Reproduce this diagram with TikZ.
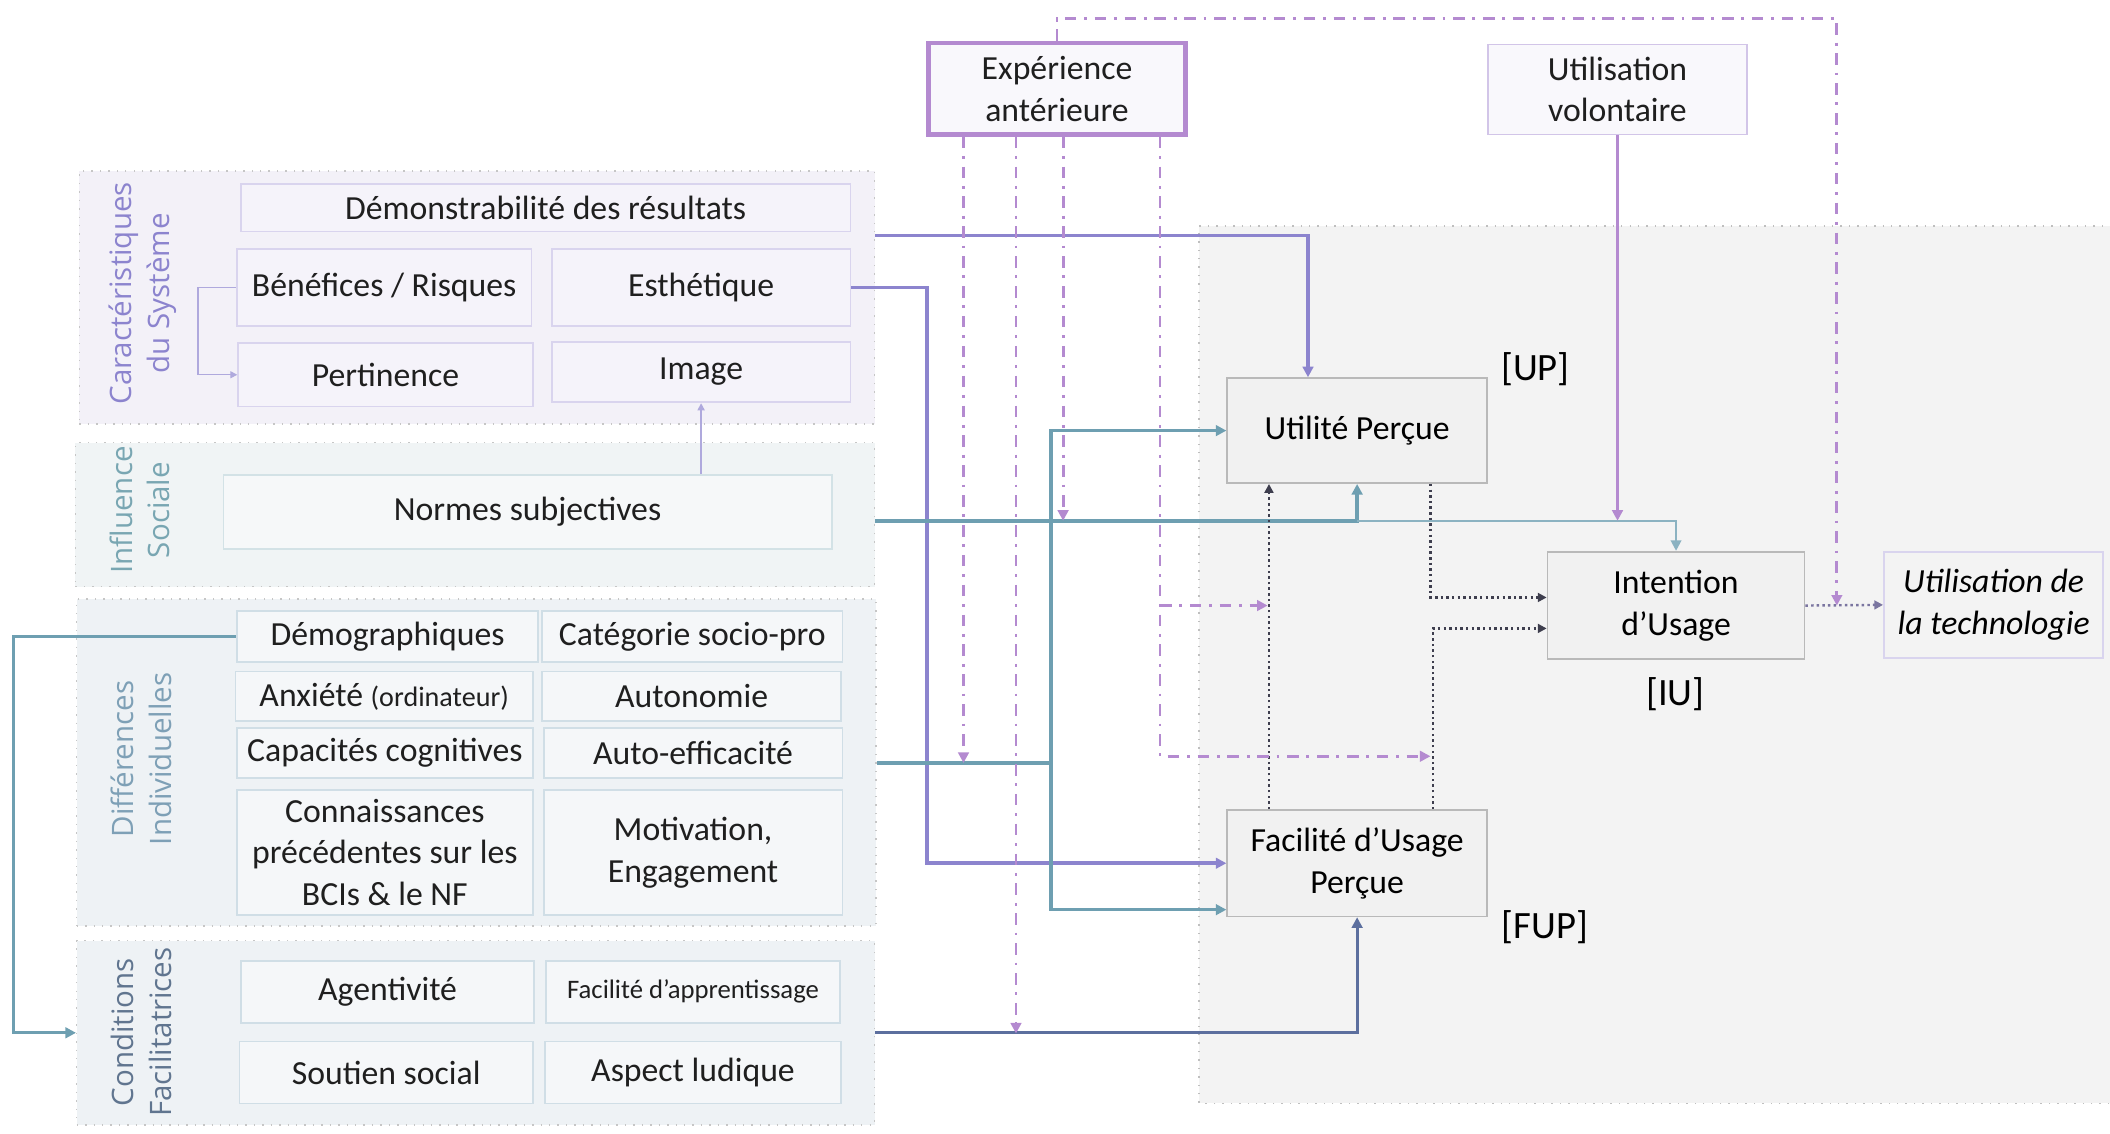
\documentclass[tikz,border=0pt]{standalone}
\usepackage{fontspec}
\setmainfont{Carlito}
\newfontfamily\grpfont{Open Sans}
\usetikzlibrary{arrows.meta}

\definecolor{sysc}{HTML}{8C84CE}
\definecolor{sysfill}{HTML}{F3F1F8}
\definecolor{sysbox}{HTML}{F5F3FA}
\definecolor{sysedge}{HTML}{D9D4EE}
\definecolor{socc}{HTML}{79A6B2}
\definecolor{socfill}{HTML}{F0F4F5}
\definecolor{socedge}{HTML}{D3E2E6}
\definecolor{indc}{HTML}{7EA0B6}
\definecolor{indfill}{HTML}{EEF2F5}
\definecolor{indedge}{HTML}{D0DEE6}
\definecolor{condc}{HTML}{60758F}
\definecolor{condln}{HTML}{5C6F9E}
\definecolor{expc}{HTML}{B48AD0}
\definecolor{tealc}{HTML}{6E9FB1}
\definecolor{dotc}{HTML}{3E3E4E}
\definecolor{usec}{HTML}{7A75A0}
\definecolor{bgfill}{HTML}{F3F3F3}
\definecolor{modfill}{HTML}{F1F1F1}

\newlength\pu
\setlength\pu{0.013457cm}
\newcommand\boxfont{\fontsize{9.6}{11.9}\selectfont}

\begin{document}
\begin{tikzpicture}[x=0.013457cm, y=-0.013457cm,
    >={Triangle[length=3pt,width=3pt]},
    size/.style 2 args={minimum width=#1\pu, minimum height=#2\pu},
    grp/.style={draw=gray!45, dotted, line width=0.4pt, inner sep=0pt},
    grplabel/.style={rotate=90, align=center, inner sep=0pt,
        font=\grpfont\fontsize{8.4}{10.7}\selectfont},
    item/.style={draw=#1, line width=0.5pt, inner sep=1pt, align=center,
        text=black!88, font=\boxfont},
    model/.style={draw=gray!55, fill=modfill, line width=0.5pt, inner sep=1pt,
        align=center, text=black, font=\boxfont},
    tag/.style={font=\fontsize{11}{13}\selectfont, inner sep=0pt},
    lnsys/.style={draw=sysc, line width=1pt},
    lnthin/.style={draw=sysc!70, line width=0.4pt, >={Triangle[length=2pt,width=2pt]}},
    lnsoc/.style={draw=tealc, line width=1pt},
    lnsocthin/.style={draw=tealc!80, line width=0.6pt},
    lnind/.style={draw=tealc, line width=0.9pt},
    lncond/.style={draw=condln, line width=0.9pt},
    lnvol/.style={draw=expc, line width=0.8pt},
    lnexp/.style={draw=expc, line width=0.8pt,
        dash pattern=on 3.3pt off 2.2pt on 0.8pt off 2.2pt},
    lndot/.style={draw=dotc, line width=0.7pt, dash pattern=on 0.7pt off 0.9pt,
        >={Triangle[length=2.5pt,width=2.5pt]}}]

    \useasboundingbox (0,0) rectangle (1568,842);

    % model area
    \fill[bgfill] (891,168) rectangle (1580,820);
    \draw[gray!50, dotted, line width=0.4pt] (1580,820) -- (891,820) -- (891,168) -- (1580,168);

    % groups
    \node[grp, fill=sysfill, size={591}{188}] (carac) at (354.5,221) {};
    \node[grp, fill=socfill, size={594}{107}] (infl) at (353,382.5) {};
    \node[grp, fill=indfill, size={594}{243}] (diff) at (354,566.5) {};
    \node[grp, fill=indfill, size={593}{137}] (cond) at (353.5,767.5) {};

    \node[grplabel, text=sysc] (caraclab) at (106,218) {Caractéristiques\\du Système};
    \node[grplabel, text=socc] (infllab) at (104,379) {Influence\\Sociale};
    \node[grplabel, text=indc] (difflab) at (105,564) {Différences\\Individuelles};
    \node[grplabel, text=condc] (condlab) at (105,767) {Conditions\\Facilitatrices};

    % caractéristiques du système
    \node[item=sysedge, fill=sysbox, size={453}{35}] (demo) at (405.5,154.5) {Démonstrabilité des résultats};
    \node[item=sysedge, fill=sysbox, size={219}{57}] (bene) at (285.5,213.5) {Bénéfices / Risques};
    \node[item=sysedge, fill=sysbox, size={222}{57}] (esth) at (521,213.5) {Esthétique};
    \node[item=sysedge, fill=sysbox, size={219}{47}] (pert) at (286.5,278.5) {Pertinence};
    \node[item=sysedge, fill=sysbox, size={222}{45}] (imag) at (521,276.5) {Image};

    % influence sociale
    \node[item=socedge, fill=socfill!60!white, size={452}{55}] (norm) at (392,380.5) {Normes subjectives};

    % différences individuelles
    \node[item=indedge, fill=indfill!60!white, size={224}{38}] (demog) at (288,473) {Démographiques};
    \node[item=indedge, fill=indfill!60!white, size={223}{38}] (cate) at (514.5,473) {Catégorie socio-pro};
    \node[item=indedge, fill=indfill!60!white, size={221}{37}] (anx) at (285.5,517.5) {Anxiété {\fontsize{8}{9}\selectfont(ordinateur)}};
    \node[item=indedge, fill=indfill!60!white, size={222}{37}] (auto) at (514,517.5) {Autonomie};
    \node[item=indedge, fill=indfill!60!white, size={220}{37}] (capa) at (286,559.5) {Capacités cognitives};
    \node[item=indedge, fill=indfill!60!white, size={222}{37}] (effi) at (515,559.5) {Auto-efficacité};
    \node[item=indedge, fill=indfill!60!white, size={220}{93}] (conn) at (286,633.5) {Connaissances\\précédentes sur les\\BCIs \& le NF};
    \node[item=indedge, fill=indfill!60!white, size={222}{93}] (moti) at (515,633.5) {Motivation,\\Engagement};

    % conditions facilitatrices
    \node[item=indedge, fill=indfill!60!white, size={218}{46}] (agen) at (288,737) {Agentivité};
    \node[item=indedge, fill=indfill!60!white, size={218}{46}, font=\fontsize{7.6}{9}\selectfont] (facap) at (515,737) {Facilité d’apprentissage};
    \node[item=indedge, fill=indfill!60!white, size={218}{46}] (sout) at (287,797) {Soutien social};
    \node[item=indedge, fill=indfill!60!white, size={220}{46}] (ludi) at (515,797) {Aspect ludique};

    % modérateurs
    \node[item=expc, fill=sysbox!60!white, line width=1.2pt, size={191}{68}] (expe) at (785.5,66) {Expérience\\antérieure};
    \node[item=sysedge!80!expc, fill=sysbox!60!white, size={192}{67}] (volo) at (1202,66.5) {Utilisation\\volontaire};

    % modèle
    \node[model, size={193}{78}] (up) at (1008.5,320) {Utilité Perçue};
    \node[model, size={193}{79}] (fup) at (1008.5,641.5) {Facilité d’Usage\\Perçue};
    \node[model, size={191}{80}] (iu) at (1245.5,450) {Intention\\d’Usage};
    \node[model, draw=sysedge, fill=bgfill, size={163}{79}, font=\boxfont\itshape] (use) at (1481.5,449.5) {Utilisation de\\la technologie};

    \node[tag] (uptag) at (1141,274) {[UP]};
    \node[tag] (fuptag) at (1148,689) {[FUP]};
    \node[tag] (iutag) at (1245,516) {[IU]};

    % liens des groupes
    \draw[lnsys, ->] (carac.east |- 0,175) -| (972,0 |- up.north);
    \draw[lnsys, ->] (esth.east) -| (689,0 |- fup.west) -- (fup.west);
    \draw[lnthin, ->] (imag.south |- norm.north) -- (imag.south);
    \draw[lnthin, ->] (bene.west) -| (147,0 |- pert.west) -- (pert.west);

    \draw[lnsoc, ->] (infl.east |- 0,387) -| (up.south);
    \draw[lnsocthin, ->] (up.south |- 0,387) -| (iu.north);

    \draw[lnind, ->] (diff.east |- 0,567) -| (781,0 |- up.west) -- (up.west);
    \draw[lnind, ->] (diff.east |- 0,567) -| (781,676) -- (fup.west |- 0,676);
    \draw[lnind, ->] (demog.west) -| (10,0 |- cond.west) -- (cond.west);

    \draw[lncond, ->] (cond.east) -| (fup.south);
    \draw[lnvol, ->] (volo.south) -- (volo.south |- 0,387);

    % liens du modèle
    \draw[lndot, ->] (943,0 |- fup.north) -- (943,0 |- up.south);
    \draw[lndot, ->] (1063,0 |- up.south) |- (iu.west |- 0,444);
    \draw[lndot, ->] (1065,0 |- fup.north) |- (iu.west |- 0,467);
    \draw[lndot, draw=usec, ->] (iu.east) -- (use.west);

    % expérience antérieure
    \draw[lnexp, ->] (716,0 |- expe.south) -- (716,567);
    \draw[lnexp, ->] (755,0 |- expe.south) -- (755,768);
    \draw[lnexp, ->] (790,0 |- expe.south) -- (790,387);
    \draw[lnexp, ->] (862,0 |- expe.south) |- (1063,562);
    \draw[lnexp, ->] (862,450) -- (942,450);
    \draw[lnexp, ->] (expe.north) |- (1365,14) -- (1365,450);

\end{tikzpicture}
\end{document}
